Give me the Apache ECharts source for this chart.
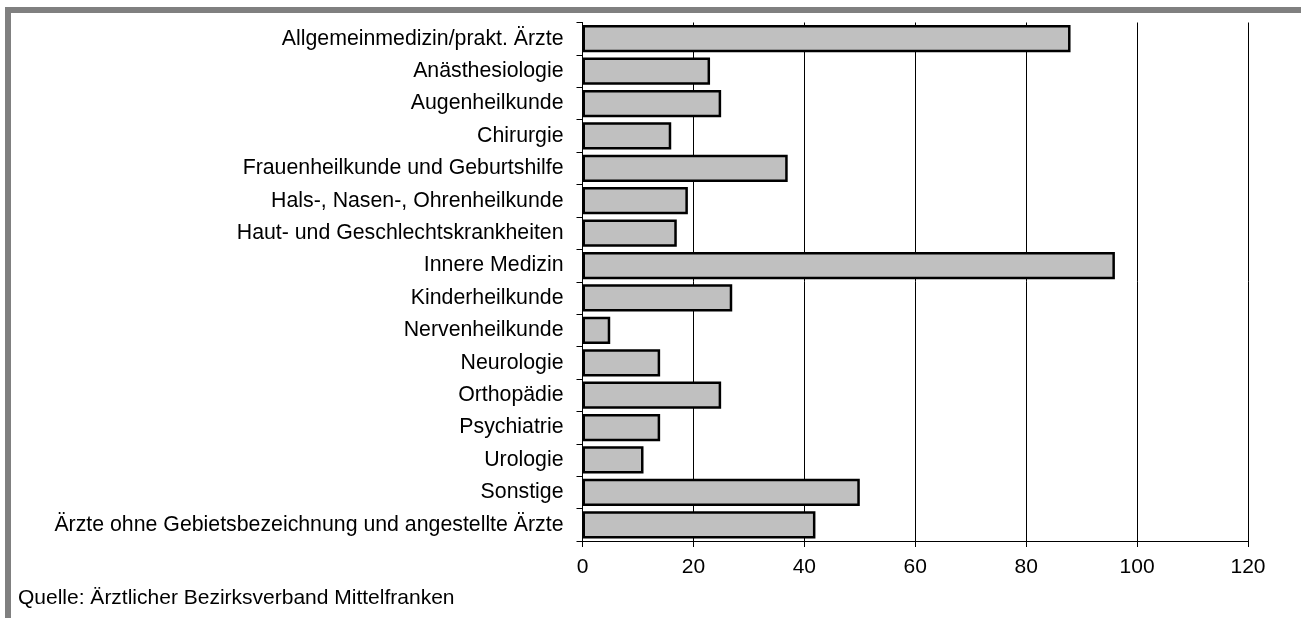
<!DOCTYPE html>
<html>
<head>
<meta charset="utf-8">
<script src="https://cdn.jsdelivr.net/npm/echarts@6/dist/echarts.min.js"></script>
<style>
  html, body { margin: 0; padding: 0; background: #fff; }
  #chart { width: 1301px; height: 618px; }
</style>
</head>
<body>
<div id="chart"></div>
<script>
// Fachrichtungen (Reihenfolge von oben nach unten)
const categories = [
  'Allgemeinmedizin/prakt. Ärzte',
  'Anästhesiologie',
  'Augenheilkunde',
  'Chirurgie',
  'Frauenheilkunde und Geburtshilfe',
  'Hals-, Nasen-, Ohrenheilkunde',
  'Haut- und Geschlechtskrankheiten',
  'Innere Medizin',
  'Kinderheilkunde',
  'Nervenheilkunde',
  'Neurologie',
  'Orthopädie',
  'Psychiatrie',
  'Urologie',
  'Sonstige',
  'Ärzte ohne Gebietsbezeichnung und angestellte Ärzte'
];

// Anzahl der Ärzte je Fachrichtung
const values = [88, 23, 25, 16, 37, 19, 17, 96, 27, 5, 14, 25, 14, 11, 50, 42];

// Achsenbereich der Werteachse
const axisMin = 0;
const axisMax = 120;
const axisStep = 20;

const sourceText = 'Quelle: Ärztlicher Bezirksverband Mittelfranken';

const FONT = '"Liberation Sans", Arial, Helvetica, sans-serif';

const chart = echarts.init(document.getElementById('chart'), null, { renderer: 'canvas' });

chart.setOption({
  backgroundColor: '#ffffff',
  animation: false,
  textStyle: { fontFamily: FONT },
  title: {
    text: sourceText,
    left: 18,
    top: 588,
    padding: 0,
    textStyle: { fontFamily: FONT, fontSize: 21, fontWeight: 'normal', color: '#000' }
  },
  graphic: [
    { type: 'rect', shape: { x: 5, y: 7, width: 1296, height: 6 }, style: { fill: '#808080' }, silent: true },
    { type: 'rect', shape: { x: 5, y: 7, width: 6, height: 611 }, style: { fill: '#808080' }, silent: true }
  ],
  grid: {
    left: 582.5,
    right: 53,
    top: 22.5,
    bottom: 77,
    containLabel: false
  },
  xAxis: {
    type: 'value',
    min: axisMin,
    max: axisMax,
    interval: axisStep,
    axisLine: { show: true, lineStyle: { color: '#000', width: 1 } },
    axisTick: { show: true, length: 6, lineStyle: { color: '#000', width: 1 } },
    axisLabel: { color: '#000', fontSize: 21, fontFamily: FONT, margin: 16 },
    splitLine: { show: true, lineStyle: { color: '#000', width: 1 } }
  },
  yAxis: {
    type: 'category',
    data: categories,
    inverse: true,
    axisLine: { show: true, lineStyle: { color: '#000', width: 1 } },
    axisTick: { show: true, length: 6, lineStyle: { color: '#000', width: 1 } },
    axisLabel: { color: '#000', fontSize: 21.3, fontFamily: FONT, margin: 19 },
    splitLine: { show: false }
  },
  series: [{
    type: 'bar',
    data: values,
    barCategoryGap: '16%',
    itemStyle: { color: '#c0c0c0', borderColor: '#000', borderWidth: 2.5 }
  }]
});
</script>
</body>
</html>
